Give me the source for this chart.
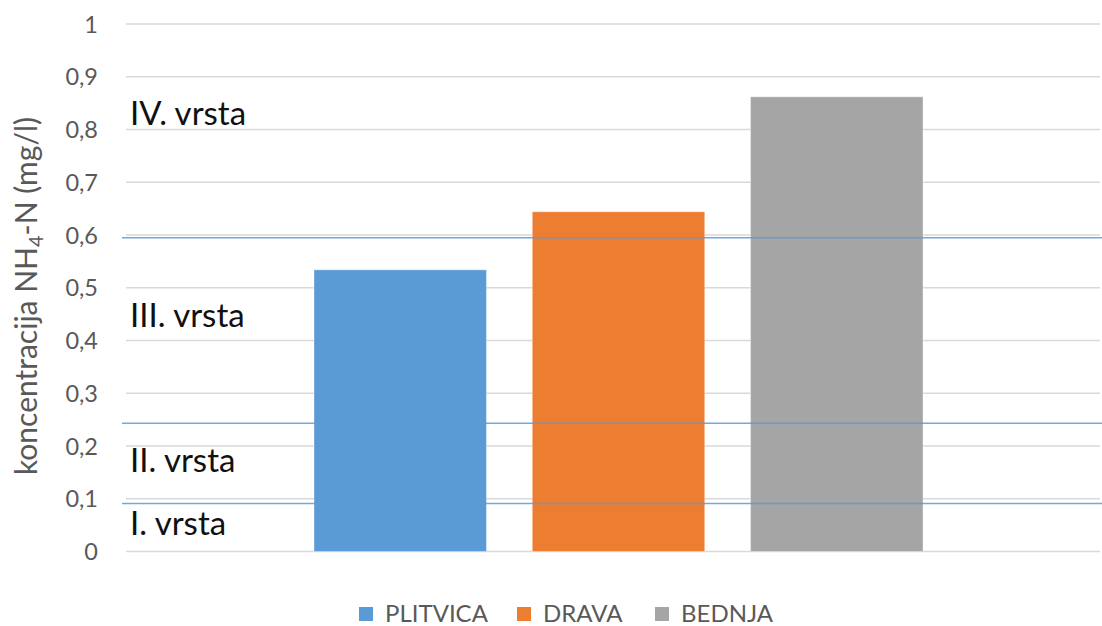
<!DOCTYPE html>
<html>
<head>
<meta charset="utf-8">
<script src="https://cdn.jsdelivr.net/npm/d3@7"></script>
<style>
  body { margin: 0; background: #fff; }
  svg { font-family: Lato, 'Open Sans', sans-serif; }
</style>
</head>
<body>
<div id="chart"></div>
<script>
const series = ['PLITVICA', 'DRAVA', 'BEDNJA']
const values = [0.534, 0.644, 0.862]
const colors = ['#5B9BD5', '#ED7D31', '#A5A5A5']
const yTicks = [0, 0.1, 0.2, 0.3, 0.4, 0.5, 0.6, 0.7, 0.8, 0.9, 1]
// class limits (blue lines) and class labels
const limits = [0.091, 0.243, 0.595]
const classLabels = ['I. vrsta', 'II. vrsta', 'III. vrsta', 'IV. vrsta']
const classLabelValues = [0.031, 0.151, 0.425, 0.808]

const width = 1102
const height = 626
const plot = { left: 126, right: 1100, top: 24, bottom: 551.5 }

const svg = d3
  .select('#chart')
  .append('svg')
  .attr('width', width)
  .attr('height', height)

const yScale = d3
  .scaleLinear()
  .domain([0, 1])
  .range([plot.bottom, plot.top])

const xScale = d3
  .scaleBand()
  .domain(series)
  .range([314, 923])
  .paddingInner(0.21)
  .paddingOuter(0)

// gridlines
svg
  .append('g')
  .selectAll('line')
  .data(yTicks)
  .enter()
  .append('line')
  .attr('x1', plot.left)
  .attr('x2', plot.right)
  .attr('y1', d => yScale(d))
  .attr('y2', d => yScale(d))
  .attr('stroke', '#D9D9D9')
  .attr('stroke-width', 1.5)

// y axis labels
const yAxis = d3
  .axisLeft(yScale)
  .tickValues(yTicks)
  .tickSize(0)
  .tickPadding(0)
  .tickFormat(d => String(d).replace('.', ','))

svg
  .append('g')
  .attr('class', 'y-axis')
  .attr('transform', 'translate(98,0)')
  .call(yAxis)
  .call(g => g.select('.domain').remove())
  .selectAll('text')
  .attr('fill', '#595959')
  .style('font-size', '23.5px')
  .style('font-family', 'Lato, sans-serif')
  .attr('dy', '0.35em')

// bars
svg
  .append('g')
  .selectAll('rect')
  .data(series)
  .enter()
  .append('rect')
  .attr('x', d => xScale(d))
  .attr('width', xScale.bandwidth())
  .attr('y', (d, i) => yScale(values[i]))
  .attr('height', (d, i) => yScale(0) - yScale(values[i]))
  .attr('fill', (d, i) => colors[i])
  .attr('stroke', '#fff')
  .attr('stroke-opacity', 0.35)
  .attr('stroke-width', 1)

// class limit lines
svg
  .append('g')
  .selectAll('line')
  .data(limits)
  .enter()
  .append('line')
  .attr('x1', 122)
  .attr('x2', width)
  .attr('y1', d => yScale(d))
  .attr('y2', d => yScale(d))
  .attr('stroke', '#5B9BD5')
  .attr('stroke-opacity', 0.85)
  .attr('stroke-width', 1.5)

// class labels
svg
  .append('g')
  .selectAll('text')
  .data(classLabels)
  .enter()
  .append('text')
  .attr('x', 130)
  .attr('y', (d, i) => yScale(classLabelValues[i]))
  .text(d => d)
  .attr('fill', '#111')
  .style('font-size', '33px')

// y title
const title = svg
  .append('text')
  .attr('transform', 'translate(37,' + 296 + ') rotate(-90)')
  .attr('text-anchor', 'middle')
  .attr('fill', '#595959')
  .style('font-size', '30px')
title.append('tspan').text('koncentracija NH')
title.append('tspan').text('4').style('font-size', '20px').attr('dy', 6)
title.append('tspan').text('-N (mg/l)').attr('dy', -6)

// legend
const legendX = [359, 517, 655]
const legend = svg
  .append('g')
  .selectAll('g')
  .data(series)
  .enter()
  .append('g')
  .attr('transform', (d, i) => 'translate(' + legendX[i] + ',614)')

legend
  .append('rect')
  .attr('x', 0)
  .attr('y', -7)
  .attr('width', 14)
  .attr('height', 14)
  .attr('fill', (d, i) => colors[i])

legend
  .append('text')
  .attr('x', 26)
  .attr('y', 0)
  .attr('dy', '0.35em')
  .text(d => d)
  .attr('fill', '#595959')
  .style('font-size', '24px')
</script>
</body>
</html>
